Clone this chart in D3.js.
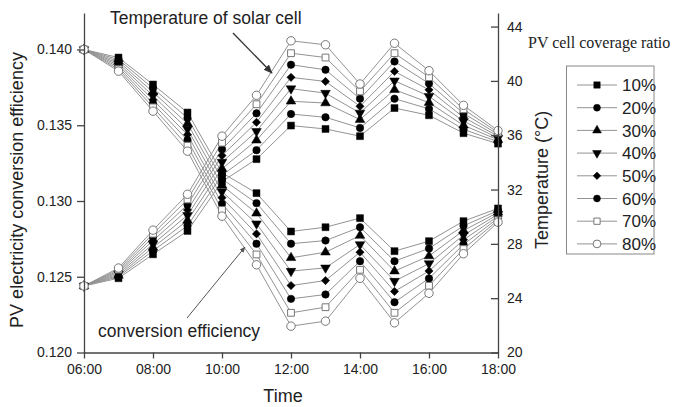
<!DOCTYPE html>
<html><head><meta charset="utf-8">
<script src="https://cdn.jsdelivr.net/npm/d3@7"></script>
<style>body{margin:0;background:#fff}svg{display:block}</style>
</head><body>
<svg id="c" width="673" height="407"></svg>
<script>
// ---- data ----
const hours = [6,7,8,9,10,11,12,13,14,15,16,17,18];
const xTickLabels = ["06:00","08:00","10:00","12:00","14:00","16:00","18:00"];
const xTickHours = [6,8,10,12,14,16,18];
const coverage = ["10%","20%","30%","40%","50%","60%","70%","80%"];
const effTicks = [0.120,0.125,0.130,0.135,0.140];
const tempTicks = [20,24,28,32,36,40,44];

// conversion efficiency, one row per coverage ratio (10% .. 80%)
const efficiency = [
  [0.1400,0.13947,0.13769,0.13584,0.13186,0.13052,0.12799,0.12827,0.12887,0.12669,0.12735,0.12867,0.12951],
  [0.1400,0.13934,0.13744,0.13548,0.13145,0.12986,0.12718,0.12739,0.12827,0.12603,0.12687,0.12836,0.12937],
  [0.1400,0.13921,0.13719,0.13511,0.13104,0.12919,0.12625,0.12662,0.12772,0.12537,0.12637,0.12805,0.12925],
  [0.1400,0.13908,0.13694,0.13475,0.13063,0.12850,0.12537,0.12559,0.12713,0.12471,0.12587,0.12775,0.12912],
  [0.1400,0.13896,0.13668,0.13438,0.13022,0.12783,0.12442,0.12475,0.12662,0.12403,0.12538,0.12744,0.12899],
  [0.1400,0.13883,0.13643,0.13402,0.12982,0.12718,0.12354,0.12383,0.12603,0.12332,0.12489,0.12713,0.12886],
  [0.1400,0.13870,0.13618,0.13365,0.12941,0.12647,0.12262,0.12299,0.12546,0.12262,0.12440,0.12683,0.12873],
  [0.1400,0.13857,0.13593,0.13329,0.12900,0.12579,0.12174,0.12207,0.12490,0.12196,0.12391,0.12652,0.12860]
];
// temperature of solar cell (°C), one row per coverage ratio (10% .. 80%)
const temperature = [
  [24.9,25.47,27.23,28.95,32.59,34.24,36.71,36.46,35.93,38.00,37.47,36.15,35.38],
  [24.9,25.58,27.49,29.34,33.06,34.90,37.56,37.32,36.54,38.69,37.94,36.44,35.52],
  [24.9,25.68,27.74,29.72,33.54,35.63,38.50,38.37,37.15,39.35,38.40,36.73,35.66],
  [24.9,25.79,27.99,30.11,34.02,36.29,39.43,39.10,37.64,40.01,38.87,37.03,35.80],
  [24.9,25.90,28.25,30.50,34.50,36.95,40.26,39.96,38.13,40.70,39.34,37.32,35.93],
  [24.9,26.00,28.50,30.88,34.97,37.61,41.19,40.82,38.69,41.43,39.81,37.61,36.07],
  [24.9,26.11,28.75,31.27,35.45,38.28,42.04,41.72,39.23,42.04,40.28,37.91,36.20],
  [24.9,26.22,29.01,31.65,35.93,38.94,42.95,42.66,39.77,42.77,40.75,38.20,36.34]
];

// ---- drawing ----
const svg = d3.select("#c");
const FONT = "'Liberation Sans', Arial, sans-serif";
const X0 = 84, X1 = 498, Y0 = 352.5, Y1 = 13;
const x = d3.scaleLinear().domain([6,18]).range([X0,X1]);
const yE = d3.scaleLinear().domain([0.120,0.14241]).range([Y0,Y1]);
const yT = d3.scaleLinear().domain([20,45]).range([Y0,Y1]);

const markerDefs = [
  {type:d3.symbolSquare, size:48, fill:"#000", rot:0},
  {type:d3.symbolCircle, size:44, fill:"#000", rot:0},
  {type:d3.symbolTriangle, size:40, fill:"#000", rot:0},
  {type:d3.symbolTriangle, size:40, fill:"#000", rot:180},
  {type:d3.symbolSquare, size:34, fill:"#000", rot:45},
  {type:d3.symbolCircle, size:44, fill:"#000", rot:0},
  {type:d3.symbolSquare, size:46, fill:"#fff", rot:0},
  {type:d3.symbolCircle, size:56, fill:"#fff", rot:0}
];
const lineColor = "#939393";

function drawGroup(data, yScale) {
  const line = d3.line().x((d,i)=>x(hours[i])).y(d=>yScale(d));
  const g = svg.append("g");
  data.forEach(row => {
    g.append("path").attr("d", line(row)).attr("fill","none")
      .attr("stroke", lineColor).attr("stroke-width", 1);
  });
  return g;
}
function drawMarkers(data, yScale) {
  const g = svg.append("g");
  data.forEach((row, s) => {
    const m = markerDefs[s];
    const sym = d3.symbol().type(m.type).size(m.size);
    row.forEach((v,i) => {
      g.append("path").attr("d", sym())
        .attr("transform", `translate(${x(hours[i])},${yScale(v)}) rotate(${m.rot})`)
        .attr("fill", m.fill)
        .attr("stroke", m.fill === "#fff" ? "#777" : "#000")
        .attr("stroke-width", m.fill === "#fff" ? 1 : 0.5);
    });
  });
}
drawGroup(efficiency, yE);
drawGroup(temperature, yT);
drawMarkers(efficiency, yE);
drawMarkers(temperature, yT);

// axes
const axisColor = "#444";
const gl = svg.append("g").attr("transform", `translate(${X0},0)`)
  .call(d3.axisLeft(yE).tickValues(effTicks).tickFormat(d3.format(".3f")).tickSize(7).tickSizeOuter(0).tickPadding(5));
const gr = svg.append("g").attr("transform", `translate(${X1},0)`)
  .call(d3.axisRight(yT).tickValues(tempTicks).tickFormat(d3.format("d")).tickSize(-7).tickSizeOuter(0).tickPadding(9));
const gb = svg.append("g").attr("transform", `translate(0,${Y0})`)
  .call(d3.axisBottom(x).tickValues(xTickHours).tickFormat((d,i)=>xTickLabels[i]).tickSize(6).tickSizeOuter(0).tickPadding(6));
[gl,gr,gb].forEach(g => {
  g.selectAll("path,line").attr("stroke", axisColor).attr("stroke-width", 1.3);
  g.selectAll("text").attr("fill","#222").style("font-family", FONT).style("font-size","14px");
});
gr.selectAll("text").attr("x", 9);

// axis titles
svg.append("text").attr("transform","translate(23,190) rotate(-90)")
  .attr("text-anchor","middle").style("font-family",FONT).style("font-size","18px").attr("fill","#222")
  .text("PV electricity conversion efficiency");
svg.append("text").attr("transform","translate(548,180) rotate(-90)")
  .attr("text-anchor","middle").style("font-family",FONT).style("font-size","18px").attr("fill","#222")
  .text("Temperature (°C)");
svg.append("text").attr("x",283).attr("y",402)
  .attr("text-anchor","middle").style("font-family",FONT).style("font-size","18px").attr("fill","#222")
  .text("Time");

// annotations
const defs = svg.append("defs");
defs.append("marker").attr("id","ah").attr("viewBox","0 0 10 10").attr("refX",9).attr("refY",5)
  .attr("markerWidth",7).attr("markerHeight",7).attr("orient","auto")
  .append("path").attr("d","M0,1 L10,5 L0,9 Z").attr("fill","#333");
defs.append("marker").attr("id","ah2").attr("viewBox","0 0 10 10").attr("refX",9).attr("refY",5)
  .attr("markerWidth",6).attr("markerHeight",6).attr("orient","auto")
  .append("path").attr("d","M0,1 L10,5 L0,9 Z").attr("fill","#555");
svg.append("text").attr("x",110).attr("y",24).style("font-family",FONT).style("font-size","17.5px").attr("fill","#222")
  .text("Temperature of solar cell");
svg.append("line").attr("x1",233).attr("y1",33).attr("x2",272).attr("y2",73)
  .attr("stroke","#333").attr("stroke-width",1.3).attr("marker-end","url(#ah)");
svg.append("text").attr("x",98).attr("y",337).style("font-family",FONT).style("font-size","17.5px").attr("fill","#222")
  .text("conversion efficiency");
svg.append("line").attr("x1",187).attr("y1",318).attr("x2",245).attr("y2",247)
  .attr("stroke","#555").attr("stroke-width",1).attr("marker-end","url(#ah2)");

// legend
svg.append("text").attr("x",528).attr("y",48)
  .style("font-family","'Liberation Serif','Times New Roman',serif").style("font-size","16px").attr("fill","#222")
  .text("PV cell coverage ratio");
const lg = svg.append("g");
lg.append("rect").attr("x",566.5).attr("y",66).attr("width",87.5).attr("height",188)
  .attr("fill","none").attr("stroke","#888").attr("stroke-width",1);
coverage.forEach((label, s) => {
  const yy = 85 + s*22.7;
  const m = markerDefs[s];
  lg.append("line").attr("x1",577).attr("x2",617).attr("y1",yy).attr("y2",yy)
    .attr("stroke",lineColor).attr("stroke-width",1);
  lg.append("path").attr("d", d3.symbol().type(m.type).size(m.size*0.85)())
    .attr("transform",`translate(597,${yy}) rotate(${m.rot})`)
    .attr("fill",m.fill).attr("stroke", m.fill === "#fff" ? "#777" : "#000")
    .attr("stroke-width", m.fill === "#fff" ? 1 : 0.5);
  lg.append("text").attr("x",622).attr("y",yy).attr("dy","0.36em")
    .style("font-family",FONT).style("font-size","17px").attr("fill","#222").text(label);
});
</script>
</body></html>
